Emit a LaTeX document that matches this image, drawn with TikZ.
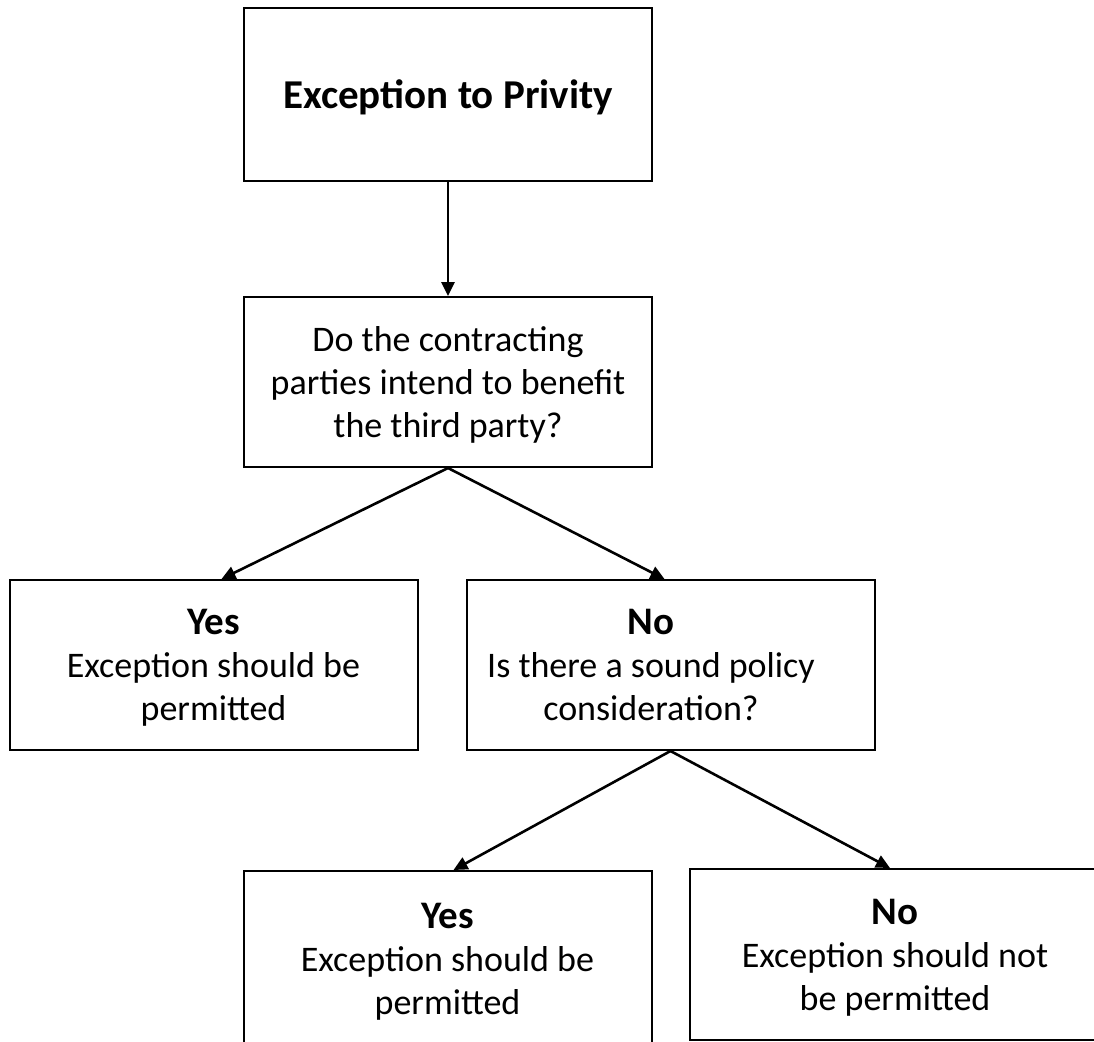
\documentclass[tikz,border=0pt]{standalone}
\usepackage{fontspec}
\setmainfont{Carlito}
\usetikzlibrary{arrows.meta}

\tikzset{
  box/.style={draw, line width=1pt, minimum width=204pt, minimum height=85pt,
    inner sep=0pt, align=center, text depth=0pt, font=\fontsize{18}{21.5}\selectfont},
  link/.style={-{Triangle[length=7pt,width=6.5pt]}, line width=1.3pt},
}
\newcommand{\hd}[1]{{\fontsize{19.5}{21.5}\selectfont\bfseries #1}}

\begin{document}
\begin{tikzpicture}[x=0.5pt, y=-0.5pt]
        \path[use as bounding box, clip] (0,0) rectangle (1094,1041);

        \node[box, minimum height=86.5pt] (top) at (448,94.5) {{\fontsize{20.5}{22}\selectfont\bfseries Exception to Privity}};
        \node[box] (ask) at (448,382) {Do the contracting\\parties intend to benefit\\the third party?};
        \node[box] (yes1) at (213.5,665) {\hd{Yes}\\Exception should be\\permitted};
        \node[box] (no1) at (670.5,665) {\hd{No}\kern19.5pt\\Is there a sound policy\kern19.5pt\\consideration?\kern19.5pt};
        \node[box, minimum height=88pt] (yes2) at (447.5,959) {\hd{Yes}\\Exception should be\\permitted};
        \node[box, minimum width=205pt, minimum height=85.5pt] (no2) at (895,954.5) {\hd{No}\\Exception should not\\be permitted};

        \draw[link] (top) -- (ask);
        \draw[link] (ask.south) -- ([xshift=4pt]yes1.north);
        \draw[link] (ask.south) -- ([xshift=-3pt]no1.north);
        \draw[link] (no1.south) -- ([xshift=3pt]yes2.north);
        \draw[link] (no1.south) -- ([xshift=-2.5pt]no2.north);
\end{tikzpicture}
\end{document}
